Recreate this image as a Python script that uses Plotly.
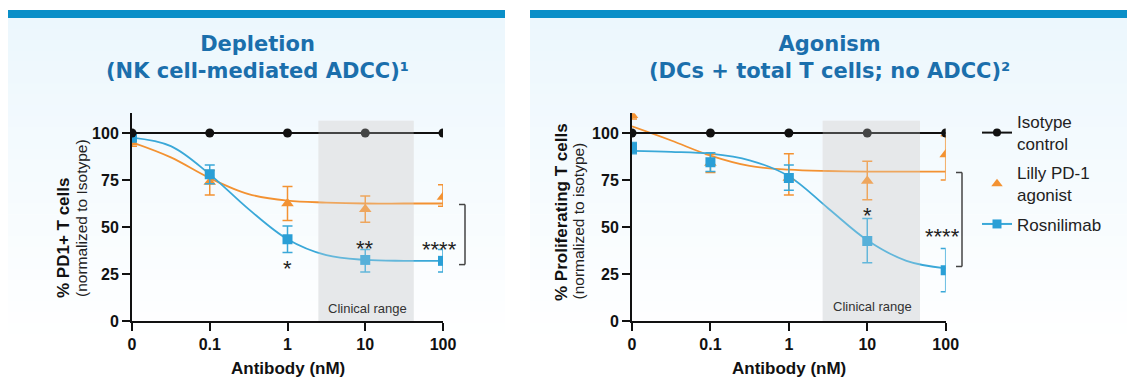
import math
import plotly.graph_objects as go

W, H = 1127, 380

# ---------------- data ----------------
dose = [0, 0.1, 1, 10, 100]
dose_labels = ["0", "0.1", "1", "10", "100"]
y_ticks = [0, 25, 50, 75, 100]

# Depletion (left)
iso_left = [100, 100, 100, 100, 100]
lilly_left = [95, 74, 62.5, 59.5, 66]
lilly_left_up = [2, 6, 9, 7, 6.5]
lilly_left_dn = [2, 7, 9, 7, 5]
rosni_left = [97.5, 78, 43.5, 32.5, 32]
rosni_left_up = [1.5, 5, 7, 5.5, 6]
rosni_left_dn = [1.5, 5, 7, 6.5, 6]

# Agonism (right)
iso_right = [100, 100, 100, 100, 100]
lilly_right = [109.5, 84, 76, 74.5, 88.5]
lilly_right_up = [2, 4.5, 13, 10.5, 10]
lilly_right_dn = [2, 5, 9, 10, 13.5]
rosni_right = [92, 84.5, 76, 42.5, 27]
rosni_right_up = [3, 5, 7, 12, 11.5]
rosni_right_dn = [3, 5, 6.5, 11.5, 11.5]

# fitted curves
fit_dose = [0, 0.0316, 0.1, 0.316, 1, 3.16, 10, 31.6, 100]
lilly_fit_left = [95, 87, 76, 67.5, 64, 63, 62.5, 62.5, 62.5]
rosni_fit_left = [97.5, 93, 78, 59.5, 43.5, 35, 32.5, 32, 32]
lilly_fit_right = [103.5, 96, 88, 82.5, 80.5, 79.8, 79.5, 79.5, 79.5]
rosni_fit_right = [90.5, 90, 89, 85.5, 77, 60, 43, 32, 28]

clinical_left = [2.5, 42]
clinical_right = [2.7, 47]
bracket_left = [30, 62]
bracket_right = [29, 79]

titles = ["<b>Depletion<br>(NK cell-mediated ADCC)¹</b>",
          "<b>Agonism<br>(DCs + total T cells; no ADCC)²</b>"]
ylab_bold = ["% PD1+ T cells", "% Proliferating T cells"]
ylab_norm = ["(normalized to Isotype)", "(normalized to isotype)"]

# ---------------- style ----------------
BLACK = "#111111"
ORANGE = "#F39232"
BLUE = "#2A9FD6"
BLUE_LINE = "#3AA8D8"
TITLE_C = "#1B6FAC"
BAR_C = "#0A8FC8"
FONT = "Liberation Sans, Arial, sans-serif"


def px(x):
    return x / W


def py(y):
    return 1 - y / H


def pos(d):
    # "0" dose is drawn at the axis break position (0.01 on the log scale)
    return [v if v > 0 else 0.01 for v in d]


lg = math.log10

fig = go.Figure()

panels = [
    dict(xa="x", ya="y", iso=iso_left, lil=lilly_left, lu=lilly_left_up, ld=lilly_left_dn,
         ros=rosni_left, ru=rosni_left_up, rd=rosni_left_dn,
         lfit=lilly_fit_left, rfit=rosni_fit_left),
    dict(xa="x2", ya="y2", iso=iso_right, lil=lilly_right, lu=lilly_right_up, ld=lilly_right_dn,
         ros=rosni_right, ru=rosni_right_up, rd=rosni_right_dn,
         lfit=lilly_fit_right, rfit=rosni_fit_right),
]

for p in panels:
    fig.add_trace(go.Scatter(x=pos(fit_dose), y=p["lfit"], mode="lines",
                             line=dict(color=ORANGE, width=1.8, shape="spline"),
                             xaxis=p["xa"], yaxis=p["ya"], showlegend=False, hoverinfo="skip"))
    fig.add_trace(go.Scatter(x=pos(fit_dose), y=p["rfit"], mode="lines",
                             line=dict(color=BLUE_LINE, width=1.8, shape="spline"),
                             xaxis=p["xa"], yaxis=p["ya"], showlegend=False, hoverinfo="skip"))
    fig.add_trace(go.Scatter(x=pos(dose), y=p["lil"], mode="markers",
                             marker=dict(symbol="triangle-up", size=11, color=ORANGE),
                             error_y=dict(type="data", array=p["lu"], arrayminus=p["ld"],
                                          color=ORANGE, thickness=1.5, width=5),
                             xaxis=p["xa"], yaxis=p["ya"], showlegend=False))
    fig.add_trace(go.Scatter(x=pos(dose), y=p["ros"], mode="markers",
                             marker=dict(symbol="square", size=10, color=BLUE),
                             error_y=dict(type="data", array=p["ru"], arrayminus=p["rd"],
                                          color=BLUE_LINE, thickness=1.5, width=5),
                             xaxis=p["xa"], yaxis=p["ya"], showlegend=False))
    fig.add_trace(go.Scatter(x=pos(dose), y=p["iso"], mode="lines+markers",
                             line=dict(color=BLACK, width=2),
                             marker=dict(symbol="circle", size=9, color=BLACK),
                             xaxis=p["xa"], yaxis=p["ya"], showlegend=False))

# legend-only entries
fig.add_trace(go.Scatter(x=[None], y=[None], mode="lines+markers", name="Isotype<br>control",
                         line=dict(color=BLACK, width=2), marker=dict(symbol="circle", size=8, color=BLACK),
                         legendgroup="a"))
fig.add_trace(go.Scatter(x=[None], y=[None], mode="markers", name="Lilly PD-1<br>agonist",
                         marker=dict(symbol="triangle-up", size=10, color=ORANGE), legendgroup="b"))
fig.add_trace(go.Scatter(x=[None], y=[None], mode="lines+markers", name="Rosnilimab",
                         line=dict(color=BLUE_LINE, width=2), marker=dict(symbol="square", size=9, color=BLUE),
                         legendgroup="c"))

shapes = []
# panel backgrounds with a soft vertical fade to white
bands = 30
top, bottom = 18, 345
c0 = (236, 247, 253)
for i in range(bands):
    t = i / (bands - 1)
    col = tuple(round(c0[k] + (255 - c0[k]) * t) for k in range(3))
    y0 = top + (bottom - top) * i / bands
    y1 = top + (bottom - top) * (i + 1) / bands + 0.5
    for (xl, xr) in [(8, 505), (530, 1127)]:
        shapes.append(dict(type="rect", xref="paper", yref="paper", x0=px(xl), x1=px(xr),
                           y0=py(y1), y1=py(y0), line=dict(width=0),
                           fillcolor="rgb(%d,%d,%d)" % col, layer="below"))
# header bars
for (xl, xr) in [(8, 505), (530, 1127)]:
    shapes.append(dict(type="rect", xref="paper", yref="paper", x0=px(xl), x1=px(xr),
                       y0=py(18), y1=py(10), line=dict(width=0), fillcolor=BAR_C, layer="below"))

# clinical range shading
for (xa, ya, cr) in [("x", "y", clinical_left), ("x2", "y2", clinical_right)]:
    shapes.append(dict(type="rect", xref=xa, yref=ya, x0=cr[0], x1=cr[1], y0=0, y1=106.5,
                       line=dict(width=0), fillcolor="#E9EAEC", layer="below"))
    shapes.append(dict(type="rect", xref=xa, yref=ya, x0=cr[0], x1=cr[1], y0=0, y1=106.5,
                       line=dict(width=0), fillcolor="rgba(225,226,228,0.25)", layer="above"))

# significance brackets
for (xa, ya, br, xpx) in [("x", "y", bracket_left, 465), ("x2", "y2", bracket_right, 962)]:
    for yv in br:
        shapes.append(dict(type="line", xref="paper", yref=ya, x0=px(xpx - 6), x1=px(xpx),
                           y0=yv, y1=yv, line=dict(color="#444444", width=1.5)))
    shapes.append(dict(type="line", xref="paper", yref=ya, x0=px(xpx), x1=px(xpx),
                       y0=br[0], y1=br[1], line=dict(color="#444444", width=1.5)))

annotations = []
# panel titles
for txt, cx in zip(titles, [257, 829]):
    annotations.append(dict(text=txt, xref="paper", yref="paper", x=px(cx), y=py(57),
                            xanchor="center", yanchor="middle", showarrow=False,
                            font=dict(family="DejaVu Sans, Verdana, sans-serif", size=21, color=TITLE_C)))
# y titles
for bold, norm, xb, xn, yb in zip(ylab_bold, ylab_norm, [63, 561], [81, 578], [300, 303]):
    annotations.append(dict(text="<b>%s</b>" % bold, xref="paper", yref="paper", x=px(xb), y=py(yb),
                            xanchor="center", yanchor="bottom", textangle=-90, showarrow=False,
                            font=dict(family=FONT, size=17, color=BLACK)))
    annotations.append(dict(text=norm, xref="paper", yref="paper", x=px(xn), y=py(yb - 1),
                            xanchor="center", yanchor="bottom", textangle=-90, showarrow=False,
                            font=dict(family=FONT, size=15.5, color="#222222")))
# x titles
for cx in [288, 789]:
    annotations.append(dict(text="<b>Antibody (nM)</b>", xref="paper", yref="paper", x=px(cx), y=py(368),
                            xanchor="center", yanchor="middle", showarrow=False,
                            font=dict(family=FONT, size=17, color=BLACK)))
# clinical range labels
for (xa, ya, xv, yv) in [("x", "y", 10.8, 6.4), ("x2", "y2", 11.8, 7.6)]:
    annotations.append(dict(text="Clinical range", xref=xa, yref=ya, x=lg(xv), y=yv,
                            xanchor="center", yanchor="middle", showarrow=False,
                            font=dict(family=FONT, size=13, color="#333333")))
# significance stars
stars = [("x", "y", "*", 1, 31), ("x", "y", "**", 10, 41.5), ("x", "y", "****", 90, 41),
         ("x2", "y2", "*", 10, 59.5), ("x2", "y2", "****", 90, 48.4)]
for (xa, ya, s, xv, yv) in stars:
    annotations.append(dict(text=s, xref=xa, yref=ya, x=lg(xv), y=yv, xanchor="center", yanchor="middle",
                            yshift=-6, showarrow=False,
                            font=dict(family=FONT, size=22, color="#222222")))

axis_common = dict(showline=True, linecolor=BLACK, linewidth=2, ticks="outside", ticklen=8,
                   tickwidth=2, tickcolor=BLACK, showgrid=False, zeroline=False, automargin=False,
                   tickfont=dict(family=FONT, size=16, color=BLACK, weight="bold"))

ytop = 110.5
ydom = [py(321), py(321 - ytop * 1.88)]

fig.update_layout(
    width=W, height=H, autosize=False,
    margin=dict(l=0, r=0, t=0, b=0, pad=0, autoexpand=False),
    paper_bgcolor="white", plot_bgcolor="rgba(0,0,0,0)",
    showlegend=True,
    legend=dict(x=px(977), y=py(104), xanchor="left", yanchor="top",
                bgcolor="rgba(0,0,0,0)", font=dict(family=FONT, size=17, color="#222222"),
                tracegroupgap=4, itemwidth=30),
    xaxis=dict(domain=[px(132), px(443)], type="log", range=[-2, 2], tickvals=pos(dose),
               ticktext=dose_labels, anchor="y", **axis_common),
    yaxis=dict(domain=ydom, range=[0, ytop], tickvals=y_ticks, anchor="x", **axis_common),
    xaxis2=dict(domain=[px(632), px(945.7)], type="log", range=[-2, 2], tickvals=pos(dose),
                ticktext=dose_labels, anchor="y2", **axis_common),
    yaxis2=dict(domain=ydom, range=[0, ytop], tickvals=y_ticks, anchor="x2", **axis_common),
    shapes=shapes, annotations=annotations,
)

fig.write_html("out.html", config={"responsive": False, "displayModeBar": False},
               post_script="document.body.style.margin='0px';")
